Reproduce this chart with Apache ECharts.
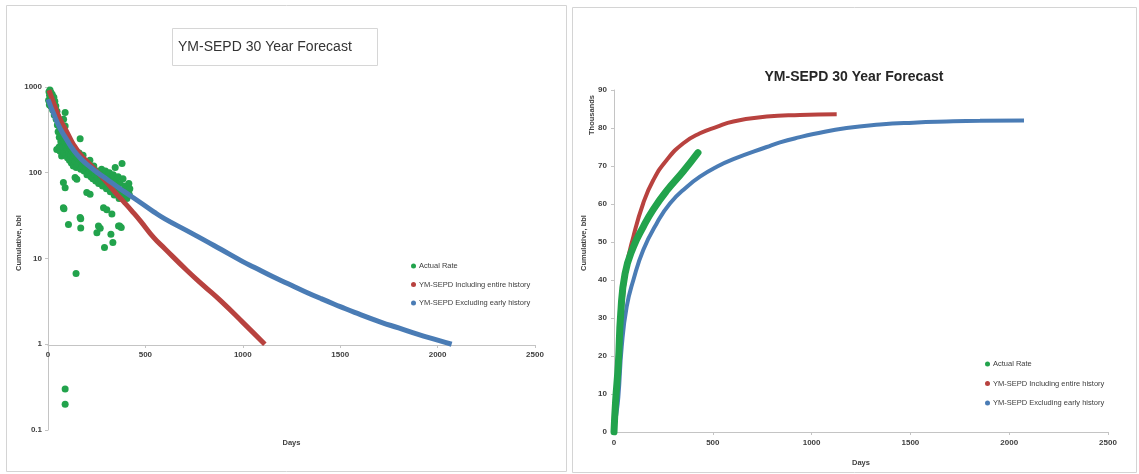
<!DOCTYPE html>
<html>
<head>
<meta charset="utf-8">
<title>YM-SEPD 30 Year Forecast</title>
<script src="https://cdn.jsdelivr.net/npm/echarts@6/dist/echarts.min.js"></script>
<style>
  html, body { margin: 0; padding: 0; background: #ffffff; }
  #chart { width: 1139px; height: 474px; }
</style>
</head>
<body>
<div id="chart"></div>
<script>
// Daily rate (bbl/d) measured in the field: [day, rate]
const actualRate = [
  [3,700],[5,880],[7,620],[8,800],[10,920],[12,700],[14,600],[15,860],[18,780],[20,650],
  [22,820],[24,540],[25,720],[28,600],[30,760],[32,470],[33,540],[35,680],[38,480],[40,600],
  [42,420],[45,187],[46,520],[48,360],[50,450],[52,300],[55,390],[57,200],[58,260],[60,340],
  [62,178],[64,300],[66,230],[70,157],[72,280],[75,200],[78,250],[80,420],[82,170],[85,230],
  [88,505],[88,350],[90,200],[92,160],[95,250],[98,190],[100,150],
  [105,210],[108,170],[110,140],[115,190],[118,160],[120,130],[125,175],[128,150],[130,120],
  [135,160],[140,135],[145,115],[150,150],[155,125],[160,170],[165,250],[168,110],[172,140],
  [175,120],[180,160],[185,105],[190,130],[195,115],[200,95],
  [205,125],[210,100],[215,140],[220,90],[225,110],[230,85],[235,120],[240,95],[245,80],
  [250,105],[255,90],[260,75],[265,100],[270,85],[275,110],[280,70],[285,95],[290,80],
  [295,105],[300,65],
  [305,90],[310,75],[315,100],[320,60],[325,85],[330,70],[335,95],[340,55],[345,115],
  [350,80],[355,65],[360,90],[365,50],[370,75],[375,60],[380,128],[385,85],[390,55],
  [395,70],[400,65],[405,50],[410,60],[414,59],[415,75],[418,55],[420,65],
  [79,77],[88,67],[139,88],[148,84],[199,59],[216,56],[79,39],[82,38],[105,25],[165,30],
  [168,29],[168,22.7],[251,20],[268,22.5],[259,24],[285,39],[302,37],[290,13.4],[323,19.2],
  [328,33],[333,15.4],[362,24],[368,24],[376,23],[144,6.7],[88,0.3],[88,0.2]
];

// Forecast rate, fit to the entire history: [day, rate]
const rateFitAll = [
  [5,920],[30,640],[62,420],[100,290],[130,215],[170,160],[216,125],[260,98],[302,77],
  [350,57],[388,46],[430,36],[474,27.5],[543,17.5],[600,13],[715,7.2],[800,4.8],[887,3.2],
  [1000,1.8],[1113,1]
];

// Forecast rate, fit excluding the early history: [day, rate]
const rateFitLate = [
  [0,720],[30,480],[62,330],[100,235],[130,185],[170,145],[216,117],[260,98],[302,84],
  [350,70],[388,61],[474,45],[543,35],[600,29],[715,21],[800,16.5],[887,12.8],[1000,9.2],
  [1058,7.9],[1150,6.2],[1230,5.1],[1320,4.1],[1402,3.4],[1500,2.75],[1574,2.35],
  [1711,1.8],[1800,1.55],[1900,1.3],[2000,1.12],[2072,1]
];

// Cumulative production, thousands of bbl: [day, cumulative]
const cumActual = [
  [0,0],[8,8],[22,18],[34,31.2],[56,41.7],[98,48.7],[148,54],[199,58.6],[267,63.5],
  [351,68.6],[425,73.5]
];
const cumFitAll = [
  [0,0],[10,6],[22,13.6],[39,31.2],[64,43.5],[98,51.4],[148,60.2],[199,66.3],[267,71.6],
  [351,76],[435,78.6],[520,80.3],[604,81.7],[773,83],[941,83.4],[1127,83.6]
];
const cumFitLate = [
  [0,0],[10,4],[22,9.2],[39,22.4],[64,32.9],[98,40],[148,47.9],[216,54.9],[284,60.2],
  [368,64.5],[435,67.2],[520,69.8],[604,71.8],[773,75],[840,76.2],[941,77.6],[1009,78.4],
  [1177,80],[1346,80.9],[1515,81.4],[1684,81.7],[1852,81.9],[2075,82]
];

// Axis labels
const dayTicks = [0, 500, 1000, 1500, 2000, 2500];
const rateTicks = ['0.1', '1', '10', '100', '1000'];
const cumTicks = [0, 10, 20, 30, 40, 50, 60, 70, 80, 90];

const seriesNames = ['Actual Rate', 'YM-SEPD Including entire history', 'YM-SEPD Excluding early history'];
const GREEN = '#22a34c';
const RED = '#b8423f';
const BLUE = '#4a7cb5';
const AXIS = '#c4c4c4';
const TXT = '#404040';
const SANS = "'Liberation Sans',Arial,sans-serif";

const tickLabel = {
  color: TXT, fontSize: 8, fontFamily: SANS, fontWeight: 'bold',
  formatter: function (v) { return String(v); }
};

const chart = echarts.init(document.getElementById('chart'), null, { renderer: 'canvas' });

const lineCommon = { smooth: 0.5, showSymbol: false, symbol: 'circle' };

const option = {
  animation: false,
  backgroundColor: '#ffffff',
  title: [{
    text: 'YM-SEPD 30 Year Forecast',
    left: 172, top: 28,
    padding: [12, 26, 12, 6],
    borderColor: '#d6d6d6', borderWidth: 1,
    textStyle: { fontFamily: SANS, fontSize: 14, fontWeight: 'normal', color: '#333333' }
  }],
  graphic: [
    { type: 'rect', silent: true, z: -10, shape: { x: 6.5, y: 5.5, width: 560, height: 466 },
      style: { fill: 'none', stroke: '#d4d4d4', lineWidth: 1 } },
    { type: 'rect', silent: true, z: -10, shape: { x: 572.5, y: 7.5, width: 564, height: 465 },
      style: { fill: 'none', stroke: '#d4d4d4', lineWidth: 1 } },
    { type: 'text', x: 854, y: 77, silent: true,
      style: { text: 'YM-SEPD 30 Year Forecast', textAlign: 'center', textVerticalAlign: 'middle',
        font: "bold 14px " + SANS, fill: '#262626' } },
    { type: 'text', x: 19, y: 243, rotation: Math.PI / 2, silent: true,
      style: { text: 'Cumulative, bbl', textAlign: 'center', textVerticalAlign: 'middle',
        font: "bold 7.5px " + SANS, fill: TXT } },
    { type: 'text', x: 584, y: 243, rotation: Math.PI / 2, silent: true,
      style: { text: 'Cumulative, bbl', textAlign: 'center', textVerticalAlign: 'middle',
        font: "bold 7.5px " + SANS, fill: TXT } },
    { type: 'text', x: 592, y: 115, rotation: Math.PI / 2, silent: true,
      style: { text: 'Thousands', textAlign: 'center', textVerticalAlign: 'middle',
        font: "bold 7.5px " + SANS, fill: TXT } }
  ],
  legend: [
    {
      left: 411, top: 262, orient: 'vertical', itemGap: 10.5, itemWidth: 5, itemHeight: 5,
      icon: 'circle', padding: 0, selectedMode: false,
      textStyle: { fontFamily: SANS, fontSize: 7.5, color: TXT, padding: [0, 0, 0, -2] },
      data: seriesNames
    },
    {
      left: 985, top: 360, orient: 'vertical', itemGap: 11.5, itemWidth: 5, itemHeight: 5,
      icon: 'circle', padding: 0, selectedMode: false,
      textStyle: { fontFamily: SANS, fontSize: 7.5, color: TXT, padding: [0, 0, 0, -2] },
      data: seriesNames
    }
  ],
  grid: [
    // rate plot (log scale)
    { left: 48, top: 87, width: 487, height: 343 },
    // carries the day axis drawn across the rate plot at 1 bbl/d
    { left: 48, top: 87, width: 487, height: 258 },
    // cumulative plot
    { left: 614, top: 90, width: 494, height: 342 }
  ],
  xAxis: [
    {
      gridIndex: 0, type: 'value', min: dayTicks[0], max: dayTicks[dayTicks.length - 1], interval: 500,
      name: 'Days', nameLocation: 'middle', nameGap: 9,
      nameTextStyle: { fontFamily: SANS, fontSize: 7.5, fontWeight: 'bold', color: TXT },
      axisLine: { show: false }, axisTick: { show: false }, axisLabel: { show: false },
      splitLine: { show: false }
    },
    {
      gridIndex: 1, type: 'value', min: dayTicks[0], max: dayTicks[dayTicks.length - 1], interval: 500,
      axisLine: { lineStyle: { color: AXIS, width: 1 } },
      axisTick: { show: true, length: 3, lineStyle: { color: AXIS } },
      axisLabel: Object.assign({ margin: 6 }, tickLabel),
      splitLine: { show: false }
    },
    {
      gridIndex: 2, type: 'value', min: dayTicks[0], max: dayTicks[dayTicks.length - 1], interval: 500,
      name: 'Days', nameLocation: 'middle', nameGap: 27,
      nameTextStyle: { fontFamily: SANS, fontSize: 7.5, fontWeight: 'bold', color: TXT },
      axisLine: { lineStyle: { color: AXIS, width: 1 } },
      axisTick: { show: true, length: 3, lineStyle: { color: AXIS } },
      axisLabel: Object.assign({ margin: 7 }, tickLabel),
      splitLine: { show: false }
    }
  ],
  yAxis: [
    {
      gridIndex: 0, type: 'log', logBase: 10, min: Number(rateTicks[0]), max: Number(rateTicks[rateTicks.length - 1]),
      axisLine: { show: true, lineStyle: { color: AXIS, width: 1 } },
      axisTick: { show: true, length: 3, lineStyle: { color: AXIS } },
      axisLabel: Object.assign({}, tickLabel, {
        margin: 6,
        formatter: function (v) {
          const s = String(Number(Number(v).toPrecision(3)));
          return rateTicks.indexOf(s) >= 0 ? s : '';
        }
      }),
      splitLine: { show: false }
    },
    { gridIndex: 1, type: 'value', min: 0, max: 1, show: false },
    {
      gridIndex: 2, type: 'value', min: cumTicks[0], max: cumTicks[cumTicks.length - 1], interval: 10,
      axisLine: { show: true, lineStyle: { color: AXIS, width: 1 } },
      axisTick: { show: true, length: 3, lineStyle: { color: AXIS } },
      axisLabel: Object.assign({ margin: 7 }, tickLabel),
      splitLine: { show: false }
    }
  ],
  series: [
    {
      name: seriesNames[0], type: 'scatter', xAxisIndex: 0, yAxisIndex: 0,
      data: actualRate, symbol: 'circle', symbolSize: 7,
      itemStyle: { color: GREEN, opacity: 1 }, z: 2
    },
    Object.assign({
      name: seriesNames[1], type: 'line', xAxisIndex: 0, yAxisIndex: 0, data: rateFitAll,
      lineStyle: { color: RED, width: 5 }, itemStyle: { color: RED }, z: 3
    }, lineCommon),
    Object.assign({
      name: seriesNames[2], type: 'line', xAxisIndex: 0, yAxisIndex: 0, data: rateFitLate,
      lineStyle: { color: BLUE, width: 5 }, itemStyle: { color: BLUE }, z: 4
    }, lineCommon),
    Object.assign({
      name: seriesNames[1], type: 'line', xAxisIndex: 2, yAxisIndex: 2, data: cumFitAll,
      lineStyle: { color: RED, width: 4 }, itemStyle: { color: RED }, z: 3
    }, lineCommon),
    Object.assign({
      name: seriesNames[2], type: 'line', xAxisIndex: 2, yAxisIndex: 2, data: cumFitLate,
      lineStyle: { color: BLUE, width: 4 }, itemStyle: { color: BLUE }, z: 3
    }, lineCommon),
    Object.assign({
      name: seriesNames[0], type: 'line', xAxisIndex: 2, yAxisIndex: 2, data: cumActual,
      lineStyle: { color: GREEN, width: 7, cap: 'round' }, itemStyle: { color: GREEN }, z: 5
    }, lineCommon)
  ]
};

chart.setOption(option);
</script>
</body>
</html>
